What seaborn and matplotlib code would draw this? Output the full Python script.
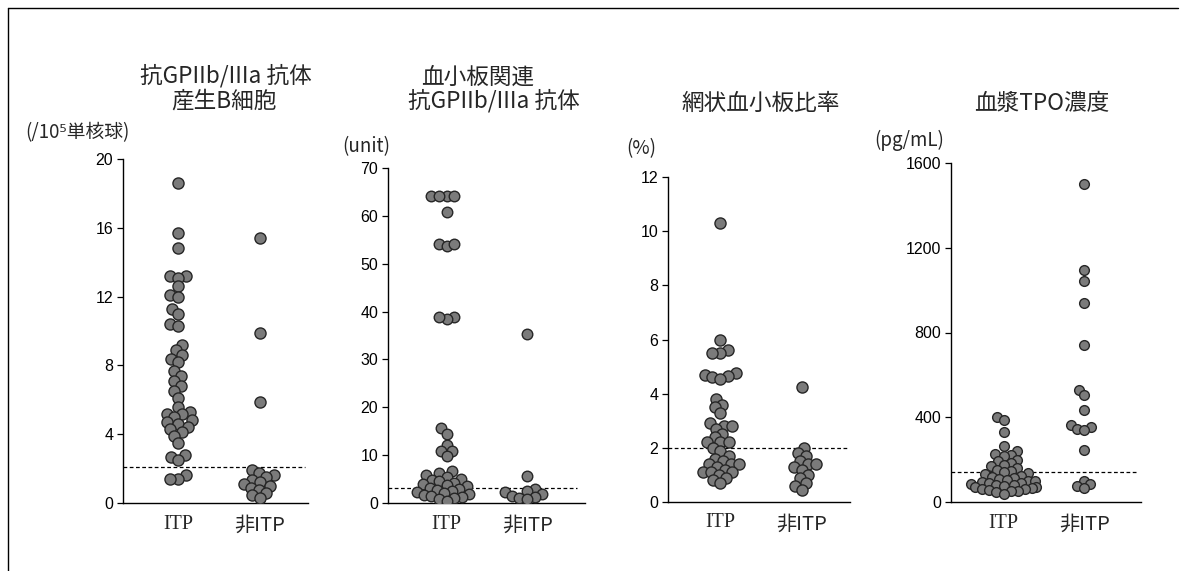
import numpy as np
import pandas as pd
import matplotlib
matplotlib.use("Agg")
import matplotlib.pyplot as plt
from matplotlib.lines import Line2D
import seaborn as sns

sns.set_style("white")
plt.rcParams["font.family"] = ["Liberation Sans", "Noto Sans CJK JP", "DejaVu Sans"]

groups = ["ITP", "非ITP"]

# 抗GPIIb/IIIa 抗体産生B細胞 (/10^5 単核球)
b_cell_itp = [18.6, 15.7, 14.8, 13.2, 13.2, 13.1, 12.6, 12.1, 12.0, 11.3, 11.0,
              10.4, 10.3, 9.2, 8.9, 8.6, 8.4, 8.2, 7.7, 7.4, 7.1, 6.8, 6.5, 6.1,
              5.6, 5.3, 5.2, 5.2, 5.0, 4.8, 4.7, 4.6, 4.4, 4.3, 4.1, 3.9, 3.5,
              2.8, 2.7, 2.5, 1.6, 1.4, 1.4]
b_cell_non = [15.4, 9.9, 5.9, 1.9, 1.75, 1.6, 1.5, 1.35, 1.2, 1.1, 1.0, 0.9,
              0.75, 0.6, 0.45, 0.3]
b_cell_cutoff = 2.1

# 血小板関連 抗GPIIb/IIIa 抗体 (unit)
pa_itp = [64.1, 64.1, 64.1, 64.1, 60.8, 54.1, 53.8, 54.1, 38.9, 38.4, 38.9,
          15.7, 14.5, 12.2, 10.9, 10.9, 9.8, 6.6, 6.2, 5.8, 5.5, 5.1, 4.8, 4.5,
          4.2, 4.0, 3.8, 3.5, 3.2, 3.0, 2.8, 2.5, 2.3, 2.0, 1.8, 1.6, 1.4, 1.2,
          1.0, 0.8, 0.5]
pa_non = [35.4, 5.6, 3.0, 2.6, 2.2, 1.8, 1.5, 1.2, 1.0, 0.8]
pa_cutoff = 3.2

# 網状血小板比率 (%)
rp_itp = [10.3, 6.0, 5.6, 5.5, 5.5, 4.75, 4.7, 4.65, 4.6, 4.55, 3.8, 3.6, 3.5,
          3.3, 2.9, 2.8, 2.8, 2.7, 2.5, 2.4, 2.2, 2.2, 2.2, 2.0, 1.9, 1.7, 1.6,
          1.5, 1.4, 1.4, 1.4, 1.3, 1.2, 1.1, 1.1, 1.1, 1.0, 0.9, 0.8, 0.7]
rp_non = [4.25, 2.0, 1.8, 1.7, 1.5, 1.4, 1.4, 1.3, 1.2, 1.0, 0.9, 0.7, 0.6, 0.45]
rp_cutoff = 2.0

# 血漿TPO濃度 (pg/mL)
tpo_itp = [400, 385, 330, 265, 240, 225, 220, 215, 200, 195, 185, 175, 170, 160,
           150, 145, 140, 135, 130, 125, 120, 115, 110, 105, 100, 100, 95, 90,
           90, 85, 80, 80, 75, 70, 70, 65, 60, 60, 55, 50, 50, 45, 40]
tpo_non = [1500, 1095, 1045, 940, 740, 530, 505, 435, 365, 355, 345, 340, 245,
           100, 85, 75, 65]
tpo_cutoff = 140

titles = [["抗GPIIb/IIIa 抗体", "産生B細胞"],
          ["血小板関連", "抗GPIIb/IIIa 抗体"],
          ["網状血小板比率"],
          ["血漿TPO濃度"]]
units = ["(/10⁵単核球)", "(unit)", "(%)", "(pg/mL)"]
yticks = [[0, 4, 8, 12, 16, 20],
          [0, 10, 20, 30, 40, 50, 60, 70],
          [0, 2, 4, 6, 8, 10, 12],
          [0, 400, 800, 1200, 1600]]

series = [(b_cell_itp, b_cell_non, b_cell_cutoff),
          (pa_itp, pa_non, pa_cutoff),
          (rp_itp, rp_non, rp_cutoff),
          (tpo_itp, tpo_non, tpo_cutoff)]

W, H = 1182, 571
fig = plt.figure(figsize=(W / 100, H / 100), dpi=100)

# pixel boxes (left, right, top, bottom), x-limits, dashed-line extent
layout = [
    dict(box=(123, 308, 159, 503), xlim=(-0.677, 1.587), dash=0.985,
         title_xy=[(226, 76), (224, 101)], unit_xy=(25, 133), msize=8.0),
    dict(box=(388, 585, 168, 503), xlim=(-0.725, 1.716), dash=0.96,
         title_xy=[(478, 77), (494, 101)], unit_xy=(342, 147), msize=7.6),
    dict(box=(668, 850, 177, 502), xlim=(-0.647, 1.596), dash=0.985,
         title_xy=[(761, 103)], unit_xy=(626, 149), msize=8.0),
    dict(box=(951, 1141, 163, 502), xlim=(-0.652, 1.703), dash=0.98,
         title_xy=[(1042, 103)], unit_xy=(874, 140), msize=7.0),
]

axes = []
for (itp, non, cut), lay, yt in zip(series, layout, yticks):
    l, r, t, b = lay["box"]
    ax = fig.add_axes([l / W, 1 - b / H, (r - l) / W, (b - t) / H])
    df = pd.DataFrame({"group": ["ITP"] * len(itp) + ["非ITP"] * len(non),
                       "value": list(itp) + list(non)})
    sns.swarmplot(data=df, x="group", y="value", order=groups, ax=ax,
                  size=lay["msize"] * 0.58, color="#7b7b7b",
                  edgecolor="#262626", linewidth=1.0, warn_thresh=1.0)
    ax.axhline(cut, xmin=0, xmax=lay["dash"], color="black", lw=0.9,
               ls=(0, (3, 2)), zorder=1)
    ax.set_xlim(*lay["xlim"])
    ax.set_ylim(yt[0], yt[-1])
    ax.set_yticks(yt)
    ax.set_xticks([0, 1])
    ax.set_xticklabels([])
    ax.set_xlabel("")
    ax.set_ylabel("")
    for s in ["top", "right"]:
        ax.spines[s].set_visible(False)
    for s in ["left", "bottom"]:
        ax.spines[s].set_color("black")
        ax.spines[s].set_linewidth(1.0)
    ax.tick_params(axis="y", direction="out", length=4, width=0.9,
                   colors="black", labelsize=11.5, pad=3, left=True)
    ax.tick_params(axis="x", length=0)
    ax.text(0, -0.035, "ITP", transform=ax.get_xaxis_transform(),
            ha="center", va="top", fontsize=14.5, family="Liberation Serif")
    ax.text(1, -0.035, "非ITP", transform=ax.get_xaxis_transform(),
            ha="center", va="top", fontsize=14.5, family=["Noto Sans CJK JP"])
    axes.append((ax, lay))

# lay out the swarms with a smaller marker, then enlarge so neighbours overlap
fig.canvas.draw()
for ax, lay in axes:
    for coll in ax.collections:
        if "draw" in coll.__dict__:
            del coll.draw
        coll.set_sizes([lay["msize"] ** 2])

for (ax, lay), lines, unit in zip(axes, titles, units):
    for line, (x, y) in zip(lines, lay["title_xy"]):
        fig.text(x / W, 1 - y / H, line, ha="center", va="center",
                 fontsize=16.3, family=["Noto Sans CJK JP", "DejaVu Sans"])
    ux, uy = lay["unit_xy"]
    fig.text(ux / W, 1 - uy / H, unit, ha="left", va="center", fontsize=13.5,
             family=["Noto Sans CJK JP", "DejaVu Sans"])

# outer frame (top and left edges)
fig.add_artist(Line2D([8 / W, 1178 / W], [1 - 8 / H, 1 - 8 / H],
                      transform=fig.transFigure, color="black", lw=1))
fig.add_artist(Line2D([8 / W, 8 / W], [0, 1 - 8 / H],
                      transform=fig.transFigure, color="black", lw=1))

fig.savefig("out.png", dpi=100, facecolor="white")
